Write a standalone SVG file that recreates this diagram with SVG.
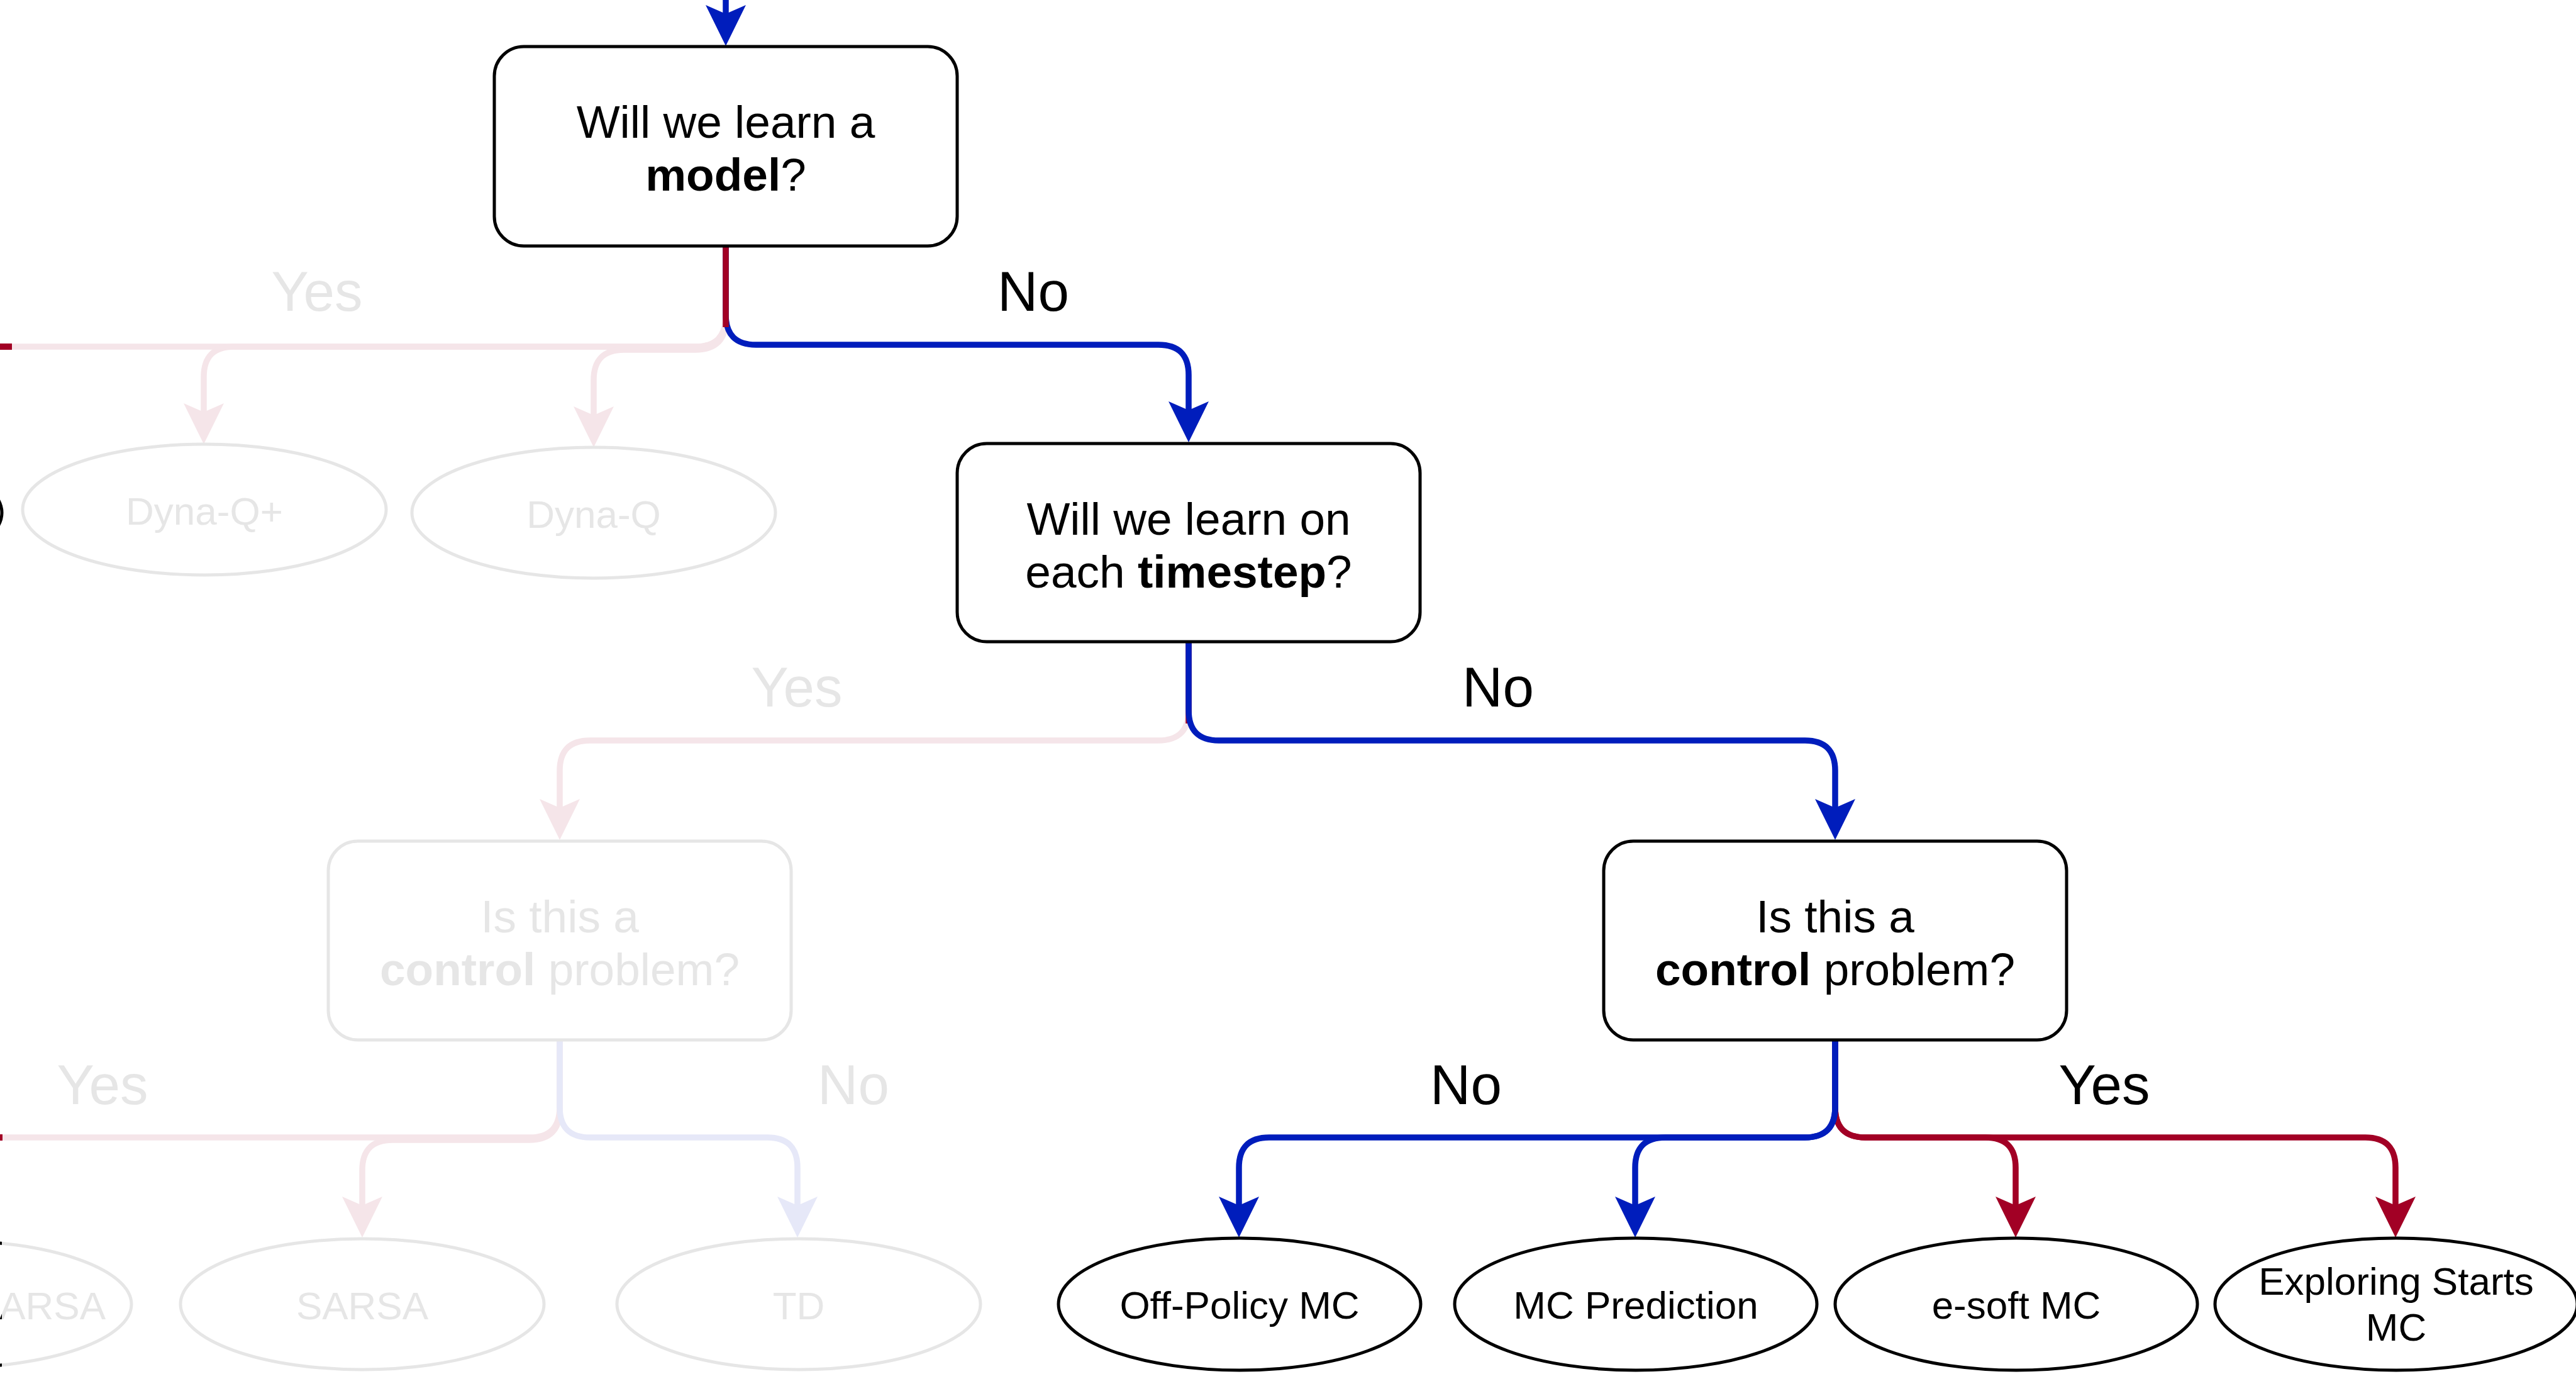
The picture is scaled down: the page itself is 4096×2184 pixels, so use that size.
<svg xmlns="http://www.w3.org/2000/svg" width="4096" height="2184" viewBox="0 0 4096 2184">
  <style>
    text { font-family: "Liberation Sans", Arial, Helvetica, sans-serif; text-anchor: middle; }
    .q { font-size: 73px; fill: #000; }
    .leaf { font-size: 62px; fill: #000; }
    .lbl { font-size: 89px; fill: #000; }
    .bold { font-weight: bold; }
    .dim { fill: #E6E6E6; }
    .box { fill: #fff; stroke: #000; stroke-width: 5; }
    .ell { fill: #fff; stroke: #000; stroke-width: 5; }
    .faded { stroke: #E6E6E6; }
    .edge { fill: none; stroke-width: 9.5; }
    .blue { stroke: #001DBC; }
    .red { stroke: #A20025; }
    .pink { stroke: #F5E5E9; }
    .lav { stroke: #E6E8F8; }
  </style>
  <defs>
    <marker id="ah-blue" markerUnits="userSpaceOnUse" markerWidth="70" markerHeight="70" viewBox="0 -35 70 70" refX="14" refY="0" orient="auto">
      <path d="M0,-32 L65,0 L0,32 L14,0 Z" fill="#001DBC"/>
    </marker>
    <marker id="ah-red" markerUnits="userSpaceOnUse" markerWidth="70" markerHeight="70" viewBox="0 -35 70 70" refX="14" refY="0" orient="auto">
      <path d="M0,-32 L65,0 L0,32 L14,0 Z" fill="#A20025"/>
    </marker>
    <marker id="ah-pink" markerUnits="userSpaceOnUse" markerWidth="70" markerHeight="70" viewBox="0 -35 70 70" refX="14" refY="0" orient="auto">
      <path d="M0,-32 L65,0 L0,32 L14,0 Z" fill="#F5E5E9"/>
    </marker>
    <marker id="ah-lav" markerUnits="userSpaceOnUse" markerWidth="70" markerHeight="70" viewBox="0 -35 70 70" refX="14" refY="0" orient="auto">
      <path d="M0,-32 L65,0 L0,32 L14,0 Z" fill="#E6E8F8"/>
    </marker>
    <clipPath id="leftStrip">
      <rect x="-600" y="0" width="603" height="2184"/>
    </clipPath>
  </defs>

  <rect x="0" y="0" width="4096" height="2184" fill="#fff"/>

  <!-- connectors -->
  <g id="connectors">
    <!-- "Yes" branch of the model question (dimmed) -->
    <path class="edge pink" d="M1154 391 V503 Q1154 551 1106 551 H-30"/>
    <path class="edge pink" d="M1154 391 V503 Q1154 551 1106 551 H372 Q324 551 324 599 V655" marker-end="url(#ah-pink)"/>
    <path class="edge pink" d="M1154 391 V508 Q1154 556 1106 556 H992 Q944 556 944 604 V660" marker-end="url(#ah-pink)"/>
    <rect x="0" y="546" width="19" height="10" fill="#A20025"/>

    <!-- entry arrow -->
    <path class="edge blue" d="M1154 -20 V22" marker-end="url(#ah-blue)"/>
    <!-- model? -> No -> timestep? -->
    <path class="edge blue" d="M1154 391 V500 Q1154 548 1202 548 H1842 Q1890 548 1890 596 V652" marker-end="url(#ah-blue)"/>
    <path class="edge red" d="M1154 391 V520"/>

    <!-- timestep? -> Yes (dimmed) -->
    <path class="edge pink" d="M1890 1020 V1129 Q1890 1177 1842 1177 H938 Q890 1177 890 1225 V1284" marker-end="url(#ah-pink)"/>
    <path class="edge red" d="M1890 1020 V1150"/>
    <!-- timestep? -> No -> control? -->
    <path class="edge blue" d="M1890 1020 V1129 Q1890 1177 1938 1177 H2870 Q2918 1177 2918 1225 V1284" marker-end="url(#ah-blue)"/>

    <!-- dimmed control? branches -->
    <path class="edge pink" d="M890 1653 V1760 Q890 1808 842 1808 H-30"/>
    <path class="edge pink" d="M890 1653 V1764 Q890 1812 842 1812 H624 Q576 1812 576 1860 V1916" marker-end="url(#ah-pink)"/>
    <path class="edge lav" d="M890 1653 V1760 Q890 1808 938 1808 H1220 Q1268 1808 1268 1856 V1916" marker-end="url(#ah-lav)"/>
    <rect x="0" y="1803" width="4" height="10" fill="#A20025"/>

    <!-- control? -> Yes -->
    <path class="edge red" d="M2918 1653 V1760 Q2918 1808 2966 1808 H3157 Q3205 1808 3205 1856 V1916" marker-end="url(#ah-red)"/>
    <path class="edge red" d="M2918 1653 V1760 Q2918 1808 2966 1808 H3761 Q3809 1808 3809 1856 V1916" marker-end="url(#ah-red)"/>
    <!-- control? -> No -->
    <path class="edge blue" d="M2918 1653 V1760 Q2918 1808 2870 1808 H2648 Q2600 1808 2600 1856 V1916" marker-end="url(#ah-blue)"/>
    <path class="edge blue" d="M2918 1653 V1760 Q2918 1808 2870 1808 H2018 Q1970 1808 1970 1856 V1916" marker-end="url(#ah-blue)"/>

    <!-- edge labels -->
    <text class="lbl dim" x="504" y="494">Yes</text>
    <text class="lbl" x="1643" y="494">No</text>
    <text class="lbl dim" x="1267" y="1123">Yes</text>
    <text class="lbl" x="2382" y="1123">No</text>
    <text class="lbl dim" x="163" y="1755">Yes</text>
    <text class="lbl dim" x="1357" y="1755">No</text>
    <text class="lbl" x="2331" y="1755">No</text>
    <text class="lbl" x="3346" y="1755">Yes</text>
  </g>

  <!-- decision nodes -->
  <g id="q-model">
    <rect class="box" x="786" y="74" width="736" height="317" rx="47" ry="47"/>
    <text class="q" x="1154" y="219">Will we learn a</text>
    <text class="q" x="1154" y="303"><tspan class="bold">model</tspan>?</text>
  </g>
  <g id="q-timestep">
    <rect class="box" x="1522" y="705" width="736" height="315" rx="47" ry="47"/>
    <text class="q" x="1890" y="850">Will we learn on</text>
    <text class="q" x="1890" y="934">each <tspan class="bold">timestep</tspan>?</text>
  </g>
  <g id="q-control-td">
    <rect class="box faded" x="522" y="1337" width="736" height="316" rx="47" ry="47"/>
    <text class="q dim" x="890" y="1482">Is this a</text>
    <text class="q dim" x="890" y="1566"><tspan class="bold">control</tspan> problem?</text>
  </g>
  <g id="q-control-mc">
    <rect class="box" x="2550" y="1337" width="736" height="316" rx="47" ry="47"/>
    <text class="q" x="2918" y="1482">Is this a</text>
    <text class="q" x="2918" y="1566"><tspan class="bold">control</tspan> problem?</text>
  </g>

  <!-- method nodes -->
  <g id="n-left-edge">
    <ellipse class="ell" cx="-286" cy="815" rx="289" ry="104"/>
  </g>
  <g id="n-dyna-q-plus">
    <ellipse class="ell faded" cx="325" cy="810" rx="289" ry="104"/>
    <text class="leaf dim" x="325" y="834">Dyna-Q+</text>
  </g>
  <g id="n-dyna-q">
    <ellipse class="ell faded" cx="944" cy="815" rx="289" ry="104"/>
    <text class="leaf dim" x="944" y="839">Dyna-Q</text>
  </g>
  <g id="n-sarsa-left">
    <ellipse class="ell faded" cx="-80" cy="2073" rx="289" ry="101"/>
    <text class="leaf dim" x="168" y="2097" style="text-anchor:end">ARSA</text>
    <g clip-path="url(#leftStrip)">
      <ellipse cx="-80" cy="2073" rx="289" ry="101" fill="none" stroke="#000" stroke-width="5"/>
      <text class="leaf" x="168" y="2097" style="text-anchor:end">ARSA</text>
    </g>
  </g>
  <g id="n-sarsa">
    <ellipse class="ell faded" cx="576" cy="2073" rx="289" ry="104"/>
    <text class="leaf dim" x="576" y="2097">SARSA</text>
  </g>
  <g id="n-td">
    <ellipse class="ell faded" cx="1270" cy="2073" rx="289" ry="104"/>
    <text class="leaf dim" x="1270" y="2097">TD</text>
  </g>
  <g id="n-off-policy-mc">
    <ellipse class="ell" cx="1971" cy="2073" rx="288" ry="105"/>
    <text class="leaf" x="1971" y="2096">Off-Policy MC</text>
  </g>
  <g id="n-mc-prediction">
    <ellipse class="ell" cx="2601" cy="2073" rx="288" ry="105"/>
    <text class="leaf" x="2601" y="2096">MC Prediction</text>
  </g>
  <g id="n-e-soft-mc">
    <ellipse class="ell" cx="3206" cy="2073" rx="288" ry="105"/>
    <text class="leaf" x="3206" y="2096">e-soft MC</text>
  </g>
  <g id="n-exploring-starts-mc">
    <ellipse class="ell" cx="3810" cy="2073" rx="288" ry="105"/>
    <text class="leaf" x="3810" y="2058">Exploring Starts</text>
    <text class="leaf" x="3810" y="2131">MC</text>
  </g>
</svg>
